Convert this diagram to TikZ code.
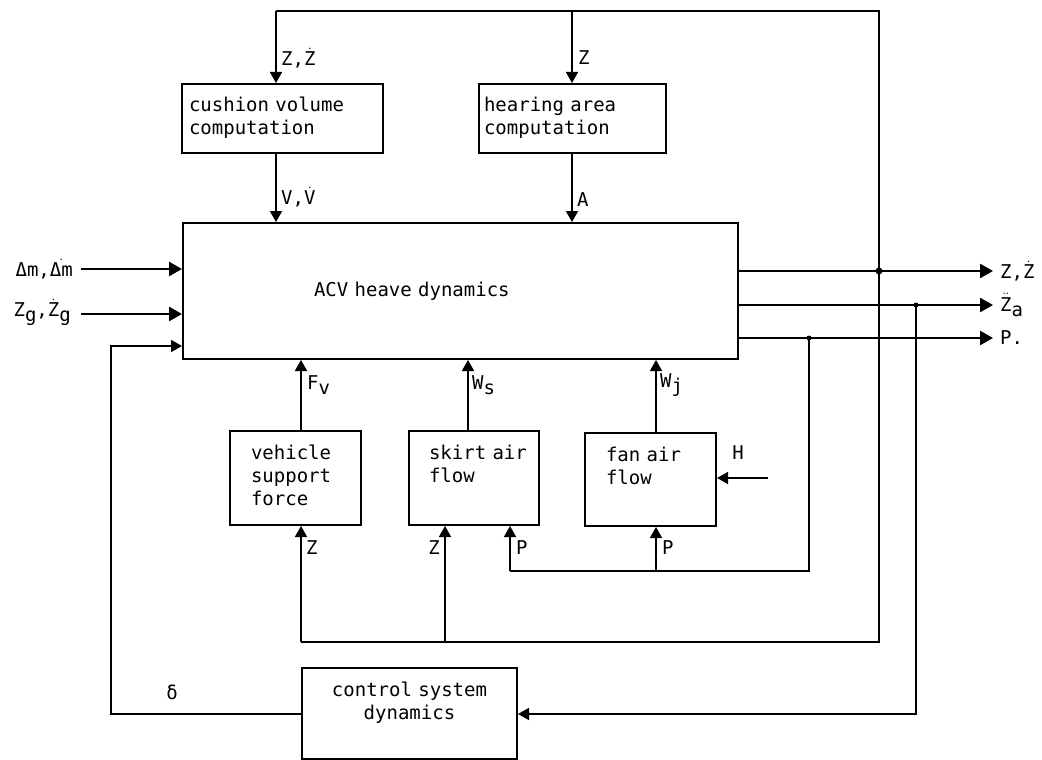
\documentclass[tikz,border=0pt]{standalone}
\usepackage{amsmath}
\usepackage{fontspec}
\newfontfamily\dotfont{DejaVu Sans Mono}
\usepackage{tikz}
\usetikzlibrary{positioning,arrows.meta}

\newcommand{\dt}[1]{$\dot{\hbox{#1}}$}
\newcommand{\ddt}[1]{$\ddot{\hbox{#1}}$}
\newcommand{\lowidx}[2]{#1\raisebox{-0.45ex}{#2}}

\tikzset{
  blk/.style={draw, line width=2pt, anchor=north west, inner ysep=0pt, align=left,
    font=\dotfont\fontsize{19}{23}\selectfont},
  sig/.style={line width=1.6pt, -{Triangle[length=11pt,width=12pt]}},
  bigsig/.style={line width=2.6pt, -{Triangle[length=13pt,width=14pt]}},
  wire/.style={line width=1.6pt},
  lab/.style={font=\dotfont\fontsize{19}{23}\selectfont, inner sep=0pt},
}

\begin{document}
\begin{tikzpicture}[x=1pt,y=-1pt]
\useasboundingbox (0,0) rectangle (1042,760);
% blocks
\draw node (cvc) at (181,83) [blk, inner xsep=7pt, text width=187pt, text height=27pt, text depth=42pt]{cushion volume\\computation};
\draw node (bac) at (478,83) [blk, inner xsep=5pt, text width=177pt, text height=27pt, text depth=42pt]{hearing area\\computation};
\draw node (acv) at (182,222) [blk, inner xsep=131pt, text width=293pt, text height=73pt, text depth=63pt]{ACV heave dynamics};
\draw node (vsf) at (229,430) [blk, inner xsep=21pt, text width=89pt, text height=28pt, text depth=66pt]{vehicle\\support\\force};
\draw node (saf) at (408,430) [blk, inner xsep=20pt, text width=90pt, text height=28pt, text depth=66pt]{\mbox{skirt air}\\flow};
\draw node (faf) at (584,432) [blk, inner xsep=21pt, text width=89pt, text height=28pt, text depth=65pt]{fan air\\flow};
\draw node (csd) at (301,667) [blk, align=center, inner xsep=0pt, text width=215pt, text height=28pt, text depth=63pt]{control system\\dynamics};

\coordinate (zj) at (879,271);
\coordinate (ztr) at (879,11);
\coordinate (ztl) at (276,11);
\coordinate (ztm) at (572,11);
\coordinate (zb) at (879,642);
\coordinate (zv) at (301,642);
\coordinate (zs) at (445,642);
\coordinate (zaj) at (916,305);
\coordinate (zab) at (916,714);
\coordinate (pj) at (809,338);
\coordinate (pb) at (809,571);
\coordinate (ps) at (510,571);
\coordinate (pf) at (656,571);
\coordinate (wsx) at (468,400);
\coordinate (dl) at (111,714);
\coordinate (du) at (111,346);
\coordinate (in1) at (81,269);
\coordinate (in2) at (81,314);
\coordinate (out1) at (993,271);
\coordinate (out2) at (993,305);
\coordinate (out3) at (993,338);
\coordinate (hin) at (768,478);

% top loop
\draw[wire] (zj) -- (ztr) -- (ztl);
\draw[sig] (ztl) -- (ztl |- cvc.north);
\draw[sig] (ztm) -- (ztm |- bac.north);
\draw[sig] (ztl |- cvc.south) -- (ztl |- acv.north);
\draw[sig] (ztm |- bac.south) -- (ztm |- acv.north);

% inputs and outputs
\draw[bigsig] (in1) -- (in1 -| acv.west);
\draw[bigsig] (in2) -- (in2 -| acv.west);
\draw[sig] (csd.west |- dl) -- (dl) -- (du) -- (du -| acv.west);
\draw[bigsig] (acv.east |- out1) -- (out1);
\draw[bigsig] (acv.east |- out2) -- (out2);
\draw[bigsig] (acv.east |- out3) -- (out3);

% feedback below
\draw[wire] (zj) -- (zb) -- (zv);
\draw[sig] (zv) -- (zv |- vsf.south);
\draw[sig] (zs) -- (zs |- saf.south);
\draw[wire] (pj) -- (pb) -- (ps);
\draw[sig] (ps) -- (ps |- saf.south);
\draw[sig] (pf) -- (pf |- faf.south);
\draw[sig] (zaj) -- (zab) -- (zab -| csd.east);
\draw[sig] (hin) -- (hin -| faf.east);
\draw[sig] (zv |- vsf.north) -- (zv |- acv.south);
\draw[sig] (wsx |- saf.north) -- (wsx |- acv.south);
\draw[sig] (pf |- faf.north) -- (pf |- acv.south);

\fill (zj) circle (3.5);
\fill (zaj) circle (2.5);
\fill (pj) circle (2.5);

% labels
\draw node (lcz) at (281,58) [lab, anchor=west]{Z,\dt{Z}};
\draw node (lbz) at (578,58) [lab, anchor=west]{Z};
\draw node (lcv) at (281,197) [lab, anchor=west]{V,\dt{V}};
\draw node (lba) at (577,200) [lab, anchor=west]{A};
\draw node (lin1) at (73,269) [lab, anchor=east]{Δm,\dt{Δm}};
\draw node (lin2) at (71,312) [lab, anchor=east]{\lowidx{Z}{g},\lowidx{\dt{Z}}{g}};
\draw node (lout1) at (1000,271) [lab, anchor=west]{Z,\dt{Z}};
\draw node (lout2) at (1000,305) [lab, anchor=west]{\lowidx{\ddt{Z}}{a}};
\draw node (lout3) at (1000,338) [lab, anchor=west]{P.};
\draw node (lfv) at (307,385) [lab, anchor=west]{\lowidx{F}{v}};
\draw node (lws) at (472,385) [lab, anchor=west]{\lowidx{W}{s}};
\draw node (lwj) at (660,385) [lab, anchor=west]{\lowidx{W}{j}};
\draw node (lh) at (738,453) [lab]{H};
\draw node (lvz) at (306,548) [lab, anchor=west]{Z};
\draw node (lsz) at (440,548) [lab, anchor=east]{Z};
\draw node (lsp) at (516,548) [lab, anchor=west]{P};
\draw node (lfp) at (662,548) [lab, anchor=west]{P};
\draw node (ld) at (172,692) [lab]{δ};
\end{tikzpicture}
\end{document}
